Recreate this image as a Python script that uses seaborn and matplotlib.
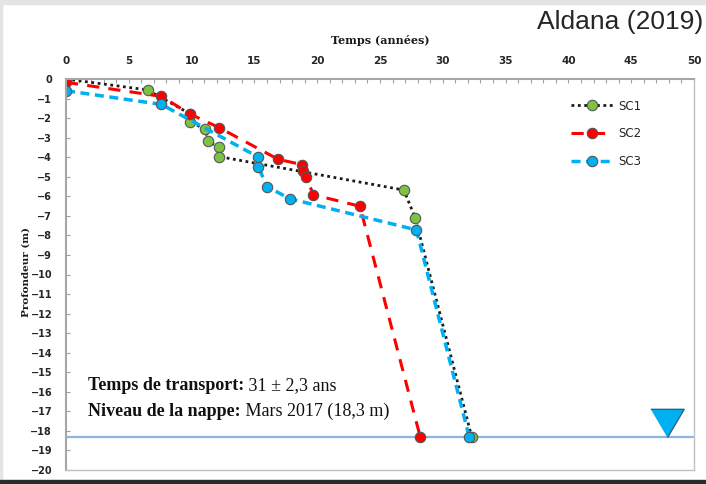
import matplotlib
matplotlib.use("Agg")
import matplotlib.pyplot as plt
import seaborn as sns
from matplotlib.patches import Rectangle

# temps (années) et profondeur (m)
sc1_t = [0, 6.5, 9.9, 9.9, 11.1, 11.3, 12.2, 12.2, 26.9, 27.8, 32.3]
sc1_z = [0, -0.56, -1.79, -2.2, -2.57, -3.19, -3.5, -3.97, -5.68, -7.1, -18.3]

sc2_t = [0, 7.6, 9.9, 12.2, 16.9, 18.8, 18.9, 19.1, 19.7, 23.4, 28.2]
sc2_z = [-0.17, -0.89, -1.8, -2.49, -4.11, -4.38, -4.69, -5.0, -5.92, -6.51, -18.3]

sc3_t = [0, 7.6, 15.3, 15.3, 16.0, 17.8, 27.9, 32.1]
sc3_z = [-0.6, -1.3, -3.99, -4.48, -5.5, -6.12, -7.72, -18.3]

water_level = -18.3
xticks = list(range(0, 51, 5))
yticks = list(range(0, -21, -1))

sns.set_theme(style="white")
plt.rcParams['font.family'] = ['DejaVu Sans']

fig = plt.figure(figsize=(7.06, 4.84), dpi=100)
fig.patches.append(Rectangle((0, 1 - 4 / 484), 1, 4 / 484, transform=fig.transFigure,
                             color='#e4e4e2', zorder=0))
fig.patches.append(Rectangle((0, 0), 2 / 706, 1, transform=fig.transFigure,
                             color='#e4e4e2', zorder=0))
fig.patches.append(Rectangle((0, 0), 1, 4 / 484, transform=fig.transFigure,
                             color='#2b2b2b', zorder=0))

ax = fig.add_axes([66 / 706, 1 - 470 / 484, (694 - 66) / 706, (470 - 79) / 484])

series = [
    (sc1_t, sc1_z, 'SC1', '#1a1a1a', (0, (1, 1.3)), 2.0, '#7DC242'),
    (sc2_t, sc2_z, 'SC2', '#FF0000', (0, (4, 3)), 2.2, '#FF0000'),
    (sc3_t, sc3_z, 'SC3', '#00B0F0', (0, (2.6, 1.6)), 2.5, '#00B0F0'),
]
for t, z, name, col, ls, lw, mcol in series:
    sns.lineplot(x=t, y=z, ax=ax, sort=False, estimator=None, color=col,
                 linestyle=ls, linewidth=lw, marker='o', markersize=7.5,
                 markerfacecolor=mcol, markeredgecolor='#555555',
                 markeredgewidth=0.8, label=name)

ax.axhline(water_level, xmin=0, xmax=0.998, color='#8DB4E2', lw=1.6, zorder=1)
ax.plot([47.85], [-17.58], marker=[(-1, 0.85), (1, 0.85), (0, -0.85)],
        markersize=24, color='#00B0F0', markeredgecolor='#2F5F8A',
        markeredgewidth=1, linestyle='none', zorder=5)

ax.set_xlim(0, 50)
ax.set_ylim(-20, 0)
ax.xaxis.tick_top()
ax.set_xticks(xticks)
ax.set_yticks(yticks)
ax.set_xticks(range(0, 51), minor=True)
ax.tick_params(axis='x', which='both', direction='in', top=True, bottom=False,
               length=3, width=0.8, color='#a0a0a0', pad=9,
               labelsize=7.5, labelcolor='#262626')
ax.tick_params(axis='y', which='major', direction='in', left=True, length=3,
               width=0.8, color='#a0a0a0', pad=10, labelsize=7,
               labelcolor='#262626')
for lab in ax.get_xticklabels() + ax.get_yticklabels():
    lab.set_fontweight('bold')
for sp in ax.spines.values():
    sp.set_color('#c0c0c0')
    sp.set_linewidth(1)
ax.spines['left'].set_color('#a6a6a6')
ax.spines['top'].set_color('#a6a6a6')
ax.spines['left'].set_linewidth(1.5)
ax.spines['top'].set_linewidth(1.5)

ax.set_xlabel('')
ax.set_ylabel('')
fig.text(380 / 706, 1 - 41 / 484, 'Temps (années)', ha='center', va='center',
         fontsize=8, fontweight='bold', family=['DejaVu Serif'], color='#1a1a1a')
fig.text(26 / 706, 1 - 272 / 484, 'Profondeur (m)', ha='center', va='center',
         rotation=90, fontsize=7.5, fontweight='bold', family=['DejaVu Serif'],
         color='#1a1a1a')

leg = ax.legend(loc='upper left', bbox_to_anchor=(560 / 706, 1 - 89 / 484),
                bbox_transform=fig.transFigure, frameon=False, fontsize=8.5,
                handlelength=3.6, labelspacing=1.25, handletextpad=0.4)
for txt in leg.get_texts():
    txt.set_color('#262626')

fig.text(703 / 706, 1 - 22 / 484, 'Aldana (2019)', ha='right', va='center',
         fontsize=19, family=['Liberation Sans'], color='#262626')

# texte mixte gras / normal
fig.canvas.draw()
r = fig.canvas.get_renderer()
lines = [('Temps de transport:', ' 31 ± 2,3 ans', 386),
         ('Niveau de la nappe:', ' Mars 2017 (18,3 m)', 411)]
for bold, normal, ypx in lines:
    tb = fig.text(88 / 706, 1 - ypx / 484, bold, ha='left', va='center',
                  fontsize=13, fontweight='bold', family=['Liberation Serif'],
                  color='#111111')
    bb = tb.get_window_extent(renderer=r)
    fig.text(bb.x1 / fig.bbox.width, 1 - ypx / 484, normal, ha='left', va='center',
             fontsize=13, family=['Liberation Serif'], color='#111111')

fig.savefig('out.png', dpi=100)
